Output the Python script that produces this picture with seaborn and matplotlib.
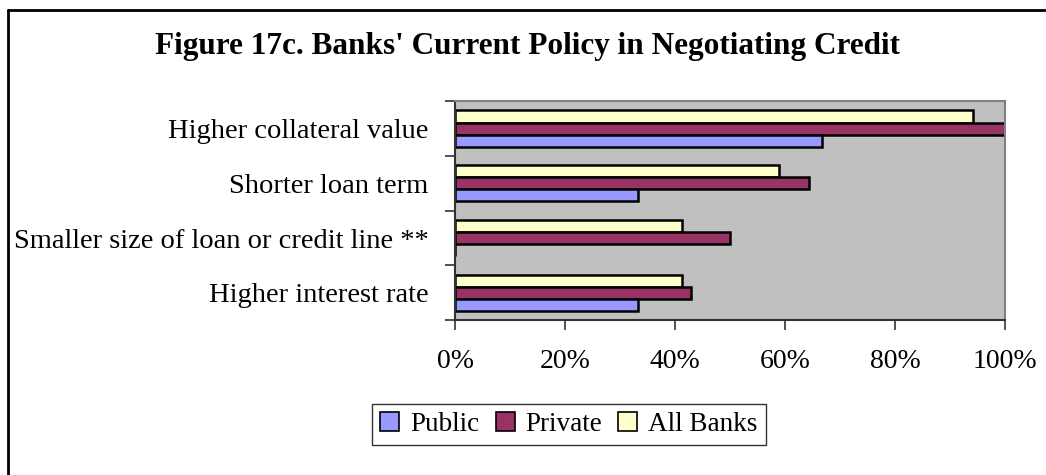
import matplotlib
matplotlib.use("Agg")
import matplotlib.pyplot as plt
from matplotlib.patches import Patch
from matplotlib.lines import Line2D
from matplotlib.ticker import FixedLocator, PercentFormatter
import numpy as np
import pandas as pd
import seaborn as sns

# Share of banks (%) applying each tightening measure
categories = ["Higher collateral value", "Shorter loan term",
              "Smaller size of loan or credit line **", "Higher interest rate"]
public = [66.7, 33.3, 0.0, 33.3]
private = [100.0, 64.3, 50.0, 42.9]
all_banks = [94.1, 58.8, 41.2, 41.2]
series_names = ["Public", "Private", "All Banks"]
x_ticks = [0, 20, 40, 60, 80, 100]

colors = {"Public": "#9999FF", "Private": "#993366", "All Banks": "#FFFFCC"}

df = pd.DataFrame({
    "category": categories * 3,
    "bank": ["Public"] * 4 + ["Private"] * 4 + ["All Banks"] * 4,
    "share": public + private + all_banks,
})

sns.set_style("white")
plt.rcParams["font.family"] = ["Liberation Serif", "DejaVu Serif"]
plt.rcParams["text.color"] = "black"
plt.rcParams["xtick.labelcolor"] = "black"
plt.rcParams["ytick.labelcolor"] = "black"

fig = plt.figure(figsize=(10.46, 4.75), dpi=100)
ax = fig.add_axes([0.435, 0.326, 0.526, 0.461])

sns.barplot(data=df, y="category", x="share", hue="bank",
            order=categories, hue_order=["All Banks", "Private", "Public"],
            palette=colors, orient="h", width=0.66,
            edgecolor="black", linewidth=1.8, saturation=1,
            legend=False, ax=ax)

ax.set_facecolor("#C0C0C0")
ax.set_xlim(0, 100)
ax.set_ylim(len(categories) - 0.5, -0.5)
ax.set_xlabel("")
ax.set_ylabel("")

ax.set_xticks(x_ticks)
ax.xaxis.set_major_formatter(PercentFormatter(decimals=0))
ax.tick_params(axis="x", direction="out", length=7, width=1.2, color="#333333",
               pad=14, labelsize=20, labelcolor="black", bottom=True)

ax.yaxis.set_minor_locator(FixedLocator(np.arange(len(categories) + 1) - 0.5))
ax.tick_params(axis="y", which="major", length=0, pad=19, labelsize=20.5,
               labelcolor="black", left=True)
ax.tick_params(axis="y", which="minor", direction="out", length=7, width=1.2,
               color="#333333", left=True)

for side in ["left", "bottom"]:
    ax.spines[side].set_color("#333333")
    ax.spines[side].set_linewidth(1.5)
for side in ["top", "right"]:
    ax.spines[side].set_visible(True)
    ax.spines[side].set_color("#808080")
    ax.spines[side].set_linewidth(1.5)

fig.text(0.504, 0.903, "Figure 17c. Banks' Current Policy in Negotiating Credit",
         ha="center", va="center", fontsize=22.5, fontweight="bold", color="black")

handles = [Patch(facecolor=colors[n], edgecolor="black", linewidth=1.2, label=n)
           for n in series_names]
leg = fig.legend(handles=handles, loc="center", bbox_to_anchor=(0.544, 0.107),
                 ncol=3, frameon=True, fancybox=False, fontsize=19.5,
                 handlelength=0.7, handleheight=0.7, handletextpad=0.4,
                 columnspacing=0.6, borderpad=0.3)
leg.get_frame().set_edgecolor("black")
leg.get_frame().set_linewidth(1.0)
for t in leg.get_texts():
    t.set_color("black")

# outer chart frame (top and left edges)
fig.add_artist(Line2D([0.0077, 1.0], [0.979, 0.979], color="black", lw=2,
                      transform=fig.transFigure))
fig.add_artist(Line2D([0.0077, 0.0077], [0.0, 0.979], color="black", lw=2,
                      transform=fig.transFigure))

fig.savefig("out.png", dpi=100)
